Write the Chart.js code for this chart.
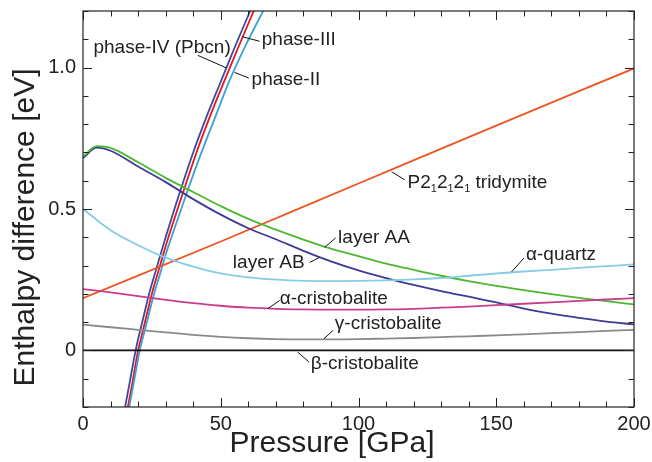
<!DOCTYPE html>
<html>
<head>
<meta charset="utf-8">
<script src="https://cdn.jsdelivr.net/npm/chart.js@4.4.0/dist/chart.umd.min.js"></script>
<style>
    html, body { margin: 0; padding: 0; background: #fff; }
    #wrap { width: 652px; height: 462px; }
</style>
</head>
<body>
<div id="wrap"><canvas id="enthalpyChart" width="652" height="462"></canvas></div>
<script>
// pressure grids [GPa]
const pressureGrid = [0, 10, 20, 30, 40, 50, 60, 70, 80, 90, 100, 110, 120, 130, 140, 150, 160, 170, 180, 190, 200];
const pressureLayer = [0, 5, 10, 20, 30, 40, 50, 60, 70, 80, 90, 100, 110, 120, 130, 140, 150, 160, 170, 180, 190, 200];
const pressureTridymite = [0, 50, 100, 150, 200];

// enthalpy differences [eV]
const gammaCristobalite = [0.091, 0.082, 0.073, 0.064, 0.055, 0.048, 0.043, 0.040, 0.039, 0.039, 0.040, 0.042, 0.044, 0.047, 0.050, 0.053, 0.057, 0.061, 0.065, 0.069, 0.073];
const alphaCristobalite = [0.217, 0.205, 0.192, 0.179, 0.167, 0.158, 0.151, 0.147, 0.145, 0.144, 0.144, 0.145, 0.147, 0.151, 0.155, 0.160, 0.165, 0.170, 0.175, 0.180, 0.185];
const alphaQuartz = [0.500, 0.425, 0.372, 0.328, 0.296, 0.272, 0.258, 0.250, 0.246, 0.245, 0.246, 0.248, 0.251, 0.256, 0.264, 0.272, 0.279, 0.285, 0.292, 0.298, 0.304];
const layerAA = [0.685, 0.722, 0.716, 0.665, 0.610, 0.560, 0.510, 0.465, 0.427, 0.392, 0.360, 0.333, 0.307, 0.285, 0.264, 0.245, 0.228, 0.213, 0.199, 0.186, 0.174, 0.163];
const layerAB = [0.680, 0.717, 0.706, 0.650, 0.595, 0.535, 0.480, 0.432, 0.393, 0.352, 0.315, 0.283, 0.256, 0.232, 0.210, 0.190, 0.170, 0.148, 0.130, 0.115, 0.102, 0.092];
const tridymite = [0.185, 0.385, 0.590, 0.795, 0.997];

// steep high-pressure phases: each with its own pressure points
const phaseIVp = [15, 17, 19, 20, 22, 24, 26, 28, 30, 35, 40, 45, 50, 55, 60, 62];
const phaseIVh = [-0.215, -0.11, -0.005, 0.04, 0.12, 0.2, 0.268, 0.335, 0.4, 0.555, 0.7, 0.83, 0.95, 1.07, 1.185, 1.23];
const phaseIIIp = [16, 18, 20, 21, 23, 25, 27, 29, 31, 36.2, 41.2, 46.2, 51.2, 56.3, 61.3, 63.3];
const phaseIIIh = [-0.215, -0.11, 0.0, 0.04, 0.12, 0.2, 0.268, 0.335, 0.4, 0.555, 0.7, 0.83, 0.95, 1.07, 1.185, 1.23];
const phaseIIp = [16.5, 18.5, 20.6, 21.6, 23.7, 25.8, 27.9, 29.9, 32.1, 37.6, 43, 48.2, 53, 58.6, 64.6, 67];
const phaseIIh = [-0.215, -0.11, 0.0, 0.04, 0.12, 0.2, 0.268, 0.335, 0.4, 0.555, 0.7, 0.83, 0.95, 1.07, 1.185, 1.23];

// labels: text anchor and leader line, in data units
const curveLabels = [
    { text: "phase-IV (Pbcn)", at: [3.8, 1.052], line: [[41.7, 1.043], [52.0, 0.999]] },
    { text: "phase-III", at: [64.9, 1.079], line: [[57.8, 1.109], [64.1, 1.093]] },
    { text: "phase-II", at: [61.2, 0.94], line: [[55.0, 0.983], [60.2, 0.963]] },
    { text: "P2|1|2|1|2|1| tridymite", at: [117.8, 0.573], line: [[112.0, 0.632], [116.8, 0.603]] },
    { text: "layer AA", at: [92.6, 0.381], line: [[87.7, 0.364], [91.7, 0.398]] },
    { text: "layer AB", at: [54.4, 0.29], line: [[82.3, 0.311], [85.9, 0.329]] },
    { text: "α-quartz", at: [160.8, 0.319], line: [[155.6, 0.278], [160.1, 0.327]] },
    { text: "α-cristobalite", at: [71.4, 0.163], line: [[67.1, 0.148], [71.4, 0.177]] },
    { text: "γ-cristobalite", at: [91.4, 0.074], line: [[87.4, 0.041], [90.8, 0.071]] },
    { text: "β-cristobalite", at: [82.7, -0.065], line: [[78.0, -0.006], [82.0, -0.041]] }
];

const FONT = "'Liberation Sans', Arial, Helvetica, sans-serif";

function toPoints(xs, ys) {
    return xs.map((x, i) => ({ x: x, y: ys[i] }));
}

function curve(data, color) {
    return {
        data: data,
        borderColor: color,
        borderWidth: 1.8,
        pointRadius: 0,
        fill: false,
        cubicInterpolationMode: 'monotone'
    };
}

// keep the plot box where the figure has it, whatever the tick labels want
function noScalePadding(s) {
    s.paddingTop = 0;
    s.paddingBottom = 0;
    s.paddingLeft = 0;
    s.paddingRight = 0;
}

const frameAndLabels = {
    id: 'frameAndLabels',
    afterDraw(chart) {
        const ctx = chart.ctx;
        const area = chart.chartArea;
        const xs = chart.scales.x;
        const ys = chart.scales.y;
        ctx.save();

        // frame
        ctx.strokeStyle = '#222';
        ctx.lineWidth = 1.2;
        ctx.strokeRect(area.left, area.top, area.right - area.left, area.bottom - area.top);

        // inward ticks on all four sides
        ctx.lineWidth = 1;
        ctx.beginPath();
        xs.ticks.forEach(t => {
            const px = Math.round(xs.getPixelForValue(t.value)) + 0.5;
            const len = Math.round(t.value) % 50 === 0 ? 9 : 5.5;
            ctx.moveTo(px, area.bottom); ctx.lineTo(px, area.bottom - len);
            ctx.moveTo(px, area.top); ctx.lineTo(px, area.top + len);
        });
        ys.ticks.forEach(t => {
            const py = Math.round(ys.getPixelForValue(t.value)) + 0.5;
            const len = Math.round(t.value * 10) % 5 === 0 ? 9 : 5.5;
            ctx.moveTo(area.left, py); ctx.lineTo(area.left + len, py);
            ctx.moveTo(area.right, py); ctx.lineTo(area.right - len, py);
        });
        ctx.stroke();

        // curve labels with leader lines
        ctx.fillStyle = '#222';
        ctx.strokeStyle = '#111';
        ctx.lineWidth = 1;
        ctx.textBaseline = 'alphabetic';
        ctx.textAlign = 'left';
        curveLabels.forEach(lab => {
            ctx.beginPath();
            ctx.moveTo(xs.getPixelForValue(lab.line[0][0]), ys.getPixelForValue(lab.line[0][1]));
            ctx.lineTo(xs.getPixelForValue(lab.line[1][0]), ys.getPixelForValue(lab.line[1][1]));
            ctx.stroke();
            let x = xs.getPixelForValue(lab.at[0]);
            const y = ys.getPixelForValue(lab.at[1]);
            // parts between | are subscripts
            lab.text.split('|').forEach((part, i) => {
                const sub = i % 2 === 1;
                ctx.font = (sub ? '11px ' : '19px ') + FONT;
                ctx.fillText(part, x, sub ? y + 4 : y);
                x += ctx.measureText(part).width;
            });
        });

        // axis titles
        ctx.font = '30px ' + FONT;
        ctx.textAlign = 'center';
        ctx.fillText('Pressure [GPa]', 332, 452);
        ctx.translate(33.5, 227.5);
        ctx.rotate(-Math.PI / 2);
        ctx.fillText('Enthalpy difference [eV]', 0, 0);
        ctx.restore();
    }
};

const ctx = document.getElementById('enthalpyChart').getContext('2d');
new Chart(ctx, {
    type: 'line',
    data: {
        datasets: [
            curve([{ x: 0, y: 0 }, { x: 200, y: 0 }], '#111'),
            curve(toPoints(pressureGrid, gammaCristobalite), '#8a8a8a'),
            curve(toPoints(pressureGrid, alphaCristobalite), '#c83c8c'),
            curve(toPoints(pressureGrid, alphaQuartz), '#86cce6'),
            curve(toPoints(pressureLayer, layerAA), '#4cb830'),
            curve(toPoints(pressureLayer, layerAB), '#3e3a96'),
            curve(toPoints(pressureTridymite, tridymite), '#ee5422'),
            curve(toPoints(phaseIIp, phaseIIh), '#3aa2d4'),
            curve(toPoints(phaseIIIp, phaseIIIh), '#e8141e'),
            curve(toPoints(phaseIVp, phaseIVh), '#3a4a9e')
        ]
    },
    options: {
        responsive: false,
        animation: false,
        layout: { padding: { top: 11, right: 18, left: 0, bottom: 0 } },
        plugins: {
            legend: { display: false },
            tooltip: { enabled: false }
        },
        scales: {
            x: {
                type: 'linear',
                min: 0,
                max: 200,
                afterFit: s => { s.height = 55; noScalePadding(s); },
                border: { display: false },
                grid: { display: false, drawTicks: false },
                ticks: {
                    stepSize: 10,
                    padding: 5,
                    color: '#222',
                    font: { family: FONT, size: 20 },
                    maxRotation: 0,
                    autoSkip: false,
                    callback: v => (Math.round(v) % 50 === 0 ? String(Math.round(v)) : '')
                }
            },
            y: {
                type: 'linear',
                min: -0.2,
                max: 1.2,
                afterFit: s => { s.width = 83; noScalePadding(s); },
                border: { display: false },
                grid: { display: false, drawTicks: false },
                ticks: {
                    stepSize: 0.1,
                    padding: 7,
                    color: '#222',
                    font: { family: FONT, size: 20 },
                    autoSkip: false,
                    callback: v => {
                        const k = Math.round(v * 10);
                        if (k === 0) return '0';
                        if (k === 5) return '0.5';
                        if (k === 10) return '1.0';
                        return '';
                    }
                }
            }
        }
    },
    plugins: [frameAndLabels]
});
</script>
</body>
</html>
